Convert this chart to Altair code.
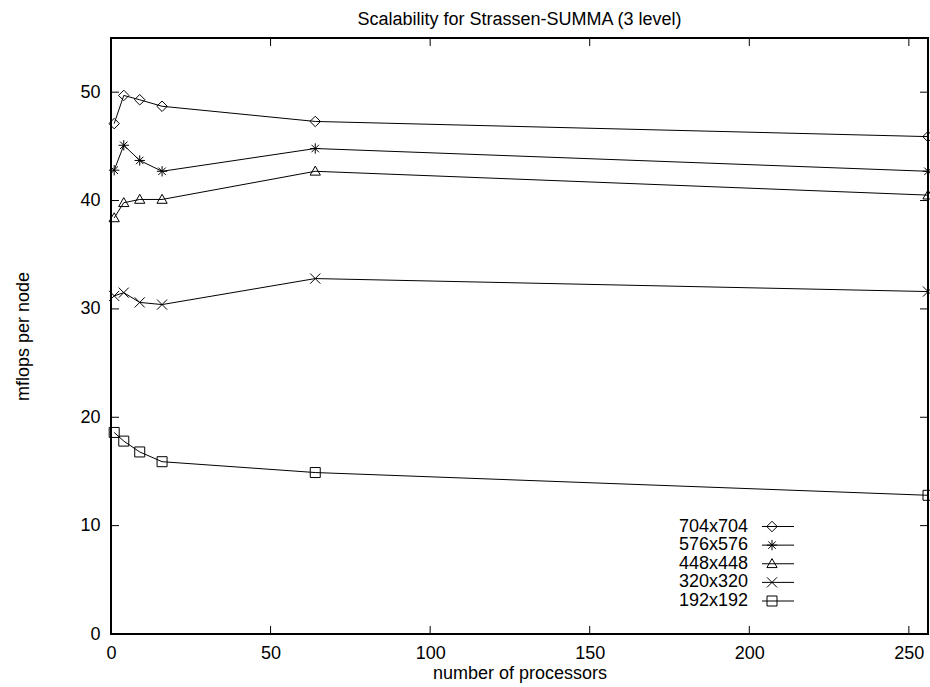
import altair as alt
import pandas as pd

# ---- data ----
processors = [1, 4, 9, 16, 64, 256]
series_names = ["704x704", "576x576", "448x448", "320x320", "192x192"]
mflops_704 = [47.1, 49.7, 49.3, 48.7, 47.3, 45.9]
mflops_576 = [42.8, 45.1, 43.7, 42.7, 44.8, 42.7]
mflops_448 = [38.4, 39.8, 40.1, 40.1, 42.7, 40.5]
mflops_320 = [31.2, 31.5, 30.6, 30.4, 32.8, 31.6]
mflops_192 = [18.6, 17.8, 16.8, 15.9, 14.9, 12.8]
x_ticks = [0, 50, 100, 150, 200, 250]
y_ticks = [0, 10, 20, 30, 40, 50]

values = [mflops_704, mflops_576, mflops_448, mflops_320, mflops_192]
rows = []
for name, vals in zip(series_names, values):
    for p, v in zip(processors, vals):
        rows.append({"series": name, "procs": p, "mflops": v})
df = pd.DataFrame(rows)
leg_df = pd.DataFrame({"series": series_names})
xt_df = pd.DataFrame({"v": x_ticks})
yt_df = pd.DataFrame({"v": y_ticks})

FONT = "Liberation Sans"
W, H = 817, 596

shape_paths = [
    "M0,-1L1,0L0,1L-1,0Z",                                              # diamond
    "M-1,0L1,0M0,-1L0,1M-0.72,-0.72L0.72,0.72M-0.72,0.72L0.72,-0.72",   # asterisk
    "M0,-1L1,0.75L-1,0.75Z",                                            # triangle
    "M-1,-1L1,1M-1,1L1,-1",                                             # cross
    "M-1,-1L1,-1L1,1L-1,1Z",                                            # square
]
shape_scale = alt.Scale(domain=series_names, range=shape_paths)
size_scale = alt.Scale(domain=series_names, range=[110, 100, 90, 85, 70])

xscale = alt.Scale(domain=[0, 256], nice=False, zero=False)
yscale = alt.Scale(domain=[0, 55], nice=False, zero=False)

x_enc = alt.X(
    "procs:Q", scale=xscale,
    axis=alt.Axis(values=x_ticks, ticks=False, tickSize=0, domain=False, grid=False,
                  labelFlush=False, labelOverlap=False,
                  labelFont=FONT, labelFontSize=18, labelColor="black", labelPadding=10,
                  title="number of processors", titleFont=FONT, titleFontSize=18,
                  titleFontWeight="normal", titleColor="black",
                  titleY=39, titleBaseline="middle"),
)
y_enc = alt.Y(
    "mflops:Q", scale=yscale,
    axis=alt.Axis(values=y_ticks, ticks=False, tickSize=0, domain=False, grid=False,
                  labelFlush=False, labelOverlap=False,
                  labelFont=FONT, labelFontSize=18, labelColor="black", labelPadding=11,
                  title="mflops per node", titleFont=FONT, titleFontSize=18,
                  titleFontWeight="normal", titleColor="black",
                  titleX=-88, titleY=298, titleBaseline="middle"),
)

base = alt.Chart(df)
lines = base.mark_line(color="black", strokeWidth=1).encode(
    x=x_enc, y=y_enc, detail="series:N"
)
points = base.mark_point(filled=False, color="black", strokeWidth=1, opacity=1).encode(
    x="procs:Q", y="mflops:Q",
    shape=alt.Shape("series:N", scale=shape_scale, legend=None),
    size=alt.Size("series:N", scale=size_scale, legend=None),
)

xt_bot = alt.Chart(xt_df).mark_rule(color="black", strokeWidth=1).encode(
    x="v:Q", y=alt.value(H), y2=alt.value(H - 8)
)
xt_top = alt.Chart(xt_df).mark_rule(color="black", strokeWidth=1).encode(
    x="v:Q", y=alt.value(0), y2=alt.value(8)
)
yt_left = alt.Chart(yt_df).mark_rule(color="black", strokeWidth=1).encode(
    y="v:Q", x=alt.value(0), x2=alt.value(8)
)
yt_right = alt.Chart(yt_df).mark_rule(color="black", strokeWidth=1).encode(
    y="v:Q", x=alt.value(W - 8), x2=alt.value(W)
)

main = alt.layer(lines, points, xt_bot, xt_top, yt_left, yt_right)

leg_y = alt.Y("series:N",
              scale=alt.Scale(type="point", domain=series_names, range=[488.5, 563], padding=0),
              axis=None)
leg_base = alt.Chart(leg_df)
leg_text = leg_base.mark_text(align="right", baseline="middle", font=FONT, fontSize=18, color="black").encode(
    x=alt.value(637), y=leg_y, text="series:N"
)
leg_rule = leg_base.mark_rule(color="black", strokeWidth=1).encode(
    x=alt.value(651), x2=alt.value(683), y=leg_y
)
leg_pts = leg_base.mark_point(filled=False, color="black", strokeWidth=1, opacity=1).encode(
    x=alt.value(661), y=leg_y,
    shape=alt.Shape("series:N", scale=shape_scale, legend=None),
    size=alt.Size("series:N", scale=size_scale, legend=None),
)
legend = alt.layer(leg_text, leg_rule, leg_pts)

chart = alt.layer(main, legend).resolve_scale(y="independent").properties(
    width=W, height=H,
    title=alt.TitleParams("Scalability for Strassen-SUMMA (3 level)", font=FONT, fontSize=18,
                          fontWeight="normal", color="black", offset=9, anchor="middle"),
    autosize=alt.AutoSizeParams(type="none"),
    padding={"left": 111, "top": 38, "right": 2, "bottom": 53},
    background="white",
).configure_view(stroke="black", strokeWidth=2)

chart.save("out.html", embed_options={"renderer": "svg", "actions": False})
